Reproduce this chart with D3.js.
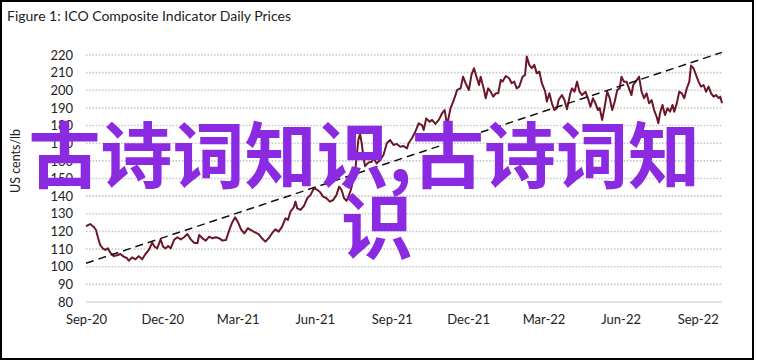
<!DOCTYPE html>
<html>
<head>
<meta charset="utf-8">
<script src="https://cdn.jsdelivr.net/npm/d3@7"></script>
<style>
  body { margin: 0; background: #fff; }
  svg { display: block; }
</style>
</head>
<body>
<div id="chart"></div>
<script>
// ICO composite indicator (US cents/lb)
const dates = [
  '2020-09-01','2020-09-06','2020-09-10','2020-09-13','2020-09-15','2020-09-18','2020-09-21','2020-09-24','2020-09-27','2020-09-30',
  '2020-10-04','2020-10-08','2020-10-12','2020-10-16','2020-10-20','2020-10-22','2020-10-26','2020-10-30','2020-11-03','2020-11-07',
  '2020-11-11','2020-11-15','2020-11-19','2020-11-22','2020-11-25','2020-11-29','2020-12-02','2020-12-05','2020-12-08','2020-12-11',
  '2020-12-15','2020-12-19','2020-12-23','2020-12-27','2020-12-31','2021-01-04','2021-01-08','2021-01-12','2021-01-14','2021-01-18',
  '2021-01-22','2021-01-26','2021-01-30','2021-02-03','2021-02-07','2021-02-11','2021-02-15','2021-02-19','2021-02-22','2021-02-26',
  '2021-03-02','2021-03-05','2021-03-09','2021-03-13','2021-03-17','2021-03-20','2021-03-26','2021-03-30','2021-04-03','2021-04-07',
  '2021-04-11','2021-04-15','2021-04-19','2021-04-23','2021-04-27','2021-04-30','2021-05-03','2021-05-07','2021-05-09','2021-05-11',
  '2021-05-15','2021-05-19','2021-05-23','2021-05-27','2021-05-31','2021-06-04','2021-06-07','2021-06-11','2021-06-15','2021-06-19',
  '2021-06-23','2021-06-27','2021-06-30','2021-07-03','2021-07-06','2021-07-09','2021-07-12','2021-07-14','2021-07-17','2021-07-19',
  '2021-07-21','2021-07-23','2021-07-25','2021-07-27','2021-07-29','2021-07-31','2021-08-04','2021-08-08','2021-08-10','2021-08-14',
  '2021-08-18','2021-08-22','2021-08-26','2021-08-30','2021-09-03','2021-09-07','2021-09-11','2021-09-15','2021-09-19','2021-09-21',
  '2021-09-25','2021-09-29','2021-10-03','2021-10-07','2021-10-09','2021-10-12','2021-10-16','2021-10-19','2021-10-23','2021-10-27',
  '2021-10-31','2021-11-03','2021-11-06','2021-11-10','2021-11-14','2021-11-18','2021-11-22','2021-11-25','2021-11-28','2021-12-02',
  '2021-12-05','2021-12-08','2021-12-11','2021-12-14','2021-12-16','2021-12-20','2021-12-22','2021-12-25','2021-12-28','2021-12-31',
  '2022-01-03','2022-01-06','2022-01-09','2022-01-11','2022-01-15','2022-01-19','2022-01-22','2022-01-25','2022-01-28','2022-01-31',
  '2022-02-04','2022-02-07','2022-02-09','2022-02-12','2022-02-15','2022-02-18','2022-02-21','2022-02-24','2022-02-27','2022-03-03',
  '2022-03-05','2022-03-08','2022-03-11','2022-03-14','2022-03-17','2022-03-19','2022-03-23','2022-03-26','2022-03-29','2022-04-02',
  '2022-04-04','2022-04-07','2022-04-10','2022-04-13','2022-04-16','2022-04-20','2022-04-23','2022-04-26','2022-04-29','2022-05-02',
  '2022-05-05','2022-05-07','2022-05-10','2022-05-13','2022-05-16','2022-05-19','2022-05-22','2022-05-25','2022-05-28','2022-05-31',
  '2022-06-02','2022-06-05','2022-06-08','2022-06-11','2022-06-14','2022-06-16','2022-06-19','2022-06-23','2022-06-26','2022-06-29',
  '2022-07-02','2022-07-05','2022-07-08','2022-07-11','2022-07-14','2022-07-16','2022-07-18','2022-07-21','2022-07-24','2022-07-27',
  '2022-07-30','2022-08-02','2022-08-04','2022-08-07','2022-08-10','2022-08-13','2022-08-16','2022-08-19','2022-08-22','2022-08-24',
  '2022-08-27','2022-08-30','2022-09-02','2022-09-05','2022-09-08','2022-09-11','2022-09-14','2022-09-17','2022-09-20','2022-09-23',
  '2022-09-26','2022-09-28','2022-09-30'
];

const prices = [
  123.0,124.2,122.7,120.8,117.0,112.3,110.4,109.5,110.4,108.0,
  106.0,106.5,107.2,105.7,104.8,103.4,105.3,104.2,106.0,104.2,
  107.2,109.5,113.6,111.3,110.4,115.5,111.3,110.4,111.7,110.4,
  115.1,116.7,115.5,116.7,118.5,115.5,113.6,113.3,118.0,116.1,
  114.8,117.0,116.1,116.7,116.1,114.8,115.1,120.8,124.6,128.0,
  124.6,121.2,118.9,121.8,120.8,119.9,118.5,116.1,114.2,116.1,
  119.0,121.2,119.9,122.7,127.4,126.5,131.2,133.7,136.9,133.1,
  132.2,134.4,138.8,140.7,144.5,143.5,142.5,139.7,138.8,136.9,
  137.8,140.7,145.4,143.5,138.8,137.4,140.7,143.5,149.2,153.0,
  162.4,171.8,175.4,170.0,162.4,157.0,159.0,159.5,161.5,158.6,
  160.5,163.3,170.0,171.8,169.0,169.6,168.0,168.4,167.1,170.0,
  172.8,176.5,181.3,180.3,177.5,184.1,182.2,183.2,180.9,183.2,
  187.0,188.8,180.3,189.8,194.5,200.2,201.1,207.7,204.0,200.2,
  208.7,212.5,207.7,203.0,207.7,200.2,195.5,201.1,199.2,196.4,
  198.3,198.3,205.9,204.9,208.1,206.8,204.0,204.9,201.1,202.1,
  207.7,208.7,219.1,214.4,212.5,214.4,209.6,210.6,204.0,199.2,
  193.6,198.3,192.6,188.8,189.8,194.5,197.3,194.5,189.2,198.3,
  201.1,199.2,204.9,199.2,197.3,199.2,195.5,190.7,195.5,192.6,
  188.8,190.0,183.2,190.7,199.2,195.5,188.8,193.6,200.2,201.1,
  207.7,204.9,204.9,201.1,197.3,203.0,204.9,207.7,199.2,195.5,
  198.3,192.6,194.5,188.8,185.0,181.3,187.0,191.7,186.0,189.8,
  187.9,191.7,187.9,192.6,199.2,198.3,195.5,201.1,204.9,214.0,
  212.5,208.7,204.9,202.1,203.0,199.2,202.1,198.3,196.4,197.3,
  195.5,196.4,192.6
];

// dashed trend line end points
const trendDates = ['2020-09-01', '2022-09-30'];
const trendValues = [102, 221.5];

const yTicks = [80, 90, 100, 110, 120, 130, 140, 150, 160, 170, 180, 190, 200, 210, 220];
const xTicks = ['2020-09-01','2020-12-01','2021-03-01','2021-06-01','2021-09-01','2021-12-01','2022-03-01','2022-06-01','2022-09-01'];

const titleText = 'Figure 1: ICO Composite Indicator Daily Prices';
const yLabel = 'US cents/lb';
const watermark = ['古诗词知识,古诗词知', '识'];

class priceChart {

  constructor(_config) {
    this.config = {
      parentElement: _config.parentElement,
      containerWidth: _config.containerWidth || 758,
      containerHeight: _config.containerHeight || 363,
      plot: {left: 86, right: 722, top: 55, bottom: 302}
    }
    this.initVis();
  }

  initVis() {
    let vis = this;
    const p = vis.config.plot;
    const parse = d3.timeParse('%Y-%m-%d');

    vis.data = dates.map((d, i) => ({date: parse(d), value: prices[i]}));
    vis.trend = trendDates.map((d, i) => ({date: parse(d), value: trendValues[i]}));

    vis.svg = d3.select(vis.config.parentElement).append('svg')
      .attr('width', vis.config.containerWidth)
      .attr('height', vis.config.containerHeight);

    // frame
    vis.svg.append('rect')
      .attr('x', 1).attr('y', 1)
      .attr('width', 752).attr('height', 358)
      .attr('fill', '#fff')
      .attr('stroke', '#000')
      .attr('stroke-width', 2);

    vis.svg.append('text')
      .attr('x', 7).attr('y', 21)
      .style('font-family', 'Lato, sans-serif')
      .style('font-size', '14px')
      .style('fill', '#222')
      .text(titleText);

    vis.x = d3.scaleTime()
      .domain([parse(trendDates[0]), parse(trendDates[1])])
      .range([p.left, p.right]);

    vis.y = d3.scaleLinear()
      .domain([80, 220])
      .range([p.bottom, p.top]);

    // gridlines, dotted except the bottom one
    vis.svg.append('g').selectAll('line')
      .data(yTicks)
      .join('line')
      .attr('x1', p.left).attr('x2', p.right)
      .attr('y1', d => vis.y(d)).attr('y2', d => vis.y(d))
      .attr('stroke', d => d === 80 ? '#d9d9d9' : '#c9c9c9')
      .attr('stroke-width', d => d === 80 ? 1.5 : 1.6)
      .attr('stroke-dasharray', d => d === 80 ? null : '1.6,1.6');

    vis.yAxis = vis.svg.append('g')
      .attr('transform', `translate(${p.left - 8},0)`)
      .call(d3.axisLeft(vis.y).tickValues(yTicks).tickSize(0).tickPadding(5));

    vis.xAxis = vis.svg.append('g')
      .attr('transform', `translate(0,${p.bottom + 8})`)
      .call(d3.axisBottom(vis.x).tickValues(xTicks.map(parse)).tickSize(0).tickPadding(5)
        .tickFormat(d3.timeFormat('%b-%y')));

    vis.svg.selectAll('.domain').remove();
    vis.svg.selectAll('.tick text')
      .style('font-family', 'Lato, sans-serif')
      .style('font-size', '13px')
      .style('fill', '#222');

    vis.svg.append('text')
      .attr('transform', 'translate(20,161) rotate(-90)')
      .attr('text-anchor', 'middle')
      .style('font-family', 'Lato, sans-serif')
      .style('font-size', '12.5px')
      .style('fill', '#222')
      .text(yLabel);

    const line = d3.line()
      .x(d => vis.x(d.date))
      .y(d => vis.y(d.value));

    vis.svg.append('path')
      .datum(vis.data)
      .attr('d', line)
      .attr('fill', 'none')
      .attr('stroke', '#6b1729')
      .attr('stroke-width', 2)
      .attr('stroke-linejoin', 'round');

    vis.svg.append('path')
      .datum(vis.trend)
      .attr('d', line)
      .attr('fill', 'none')
      .attr('stroke', '#111')
      .attr('stroke-width', 1.5)
      .attr('stroke-dasharray', '8,5');

    // watermark text over the chart
    vis.svg.append('g').selectAll('text')
      .data(watermark)
      .join('text')
      .attr('x', (d, i) => i === 0 ? 28.5 : 341)
      .attr('y', (d, i) => 182 + i * 71)
      .style('font-family', '"Noto Sans CJK SC", sans-serif')
      .style('font-weight', 700)
      .style('font-size', '72px')
      .style('fill', '#8a2be2')
      .text(d => d);
  }
}

new priceChart({parentElement: '#chart'});
</script>
</body>
</html>
